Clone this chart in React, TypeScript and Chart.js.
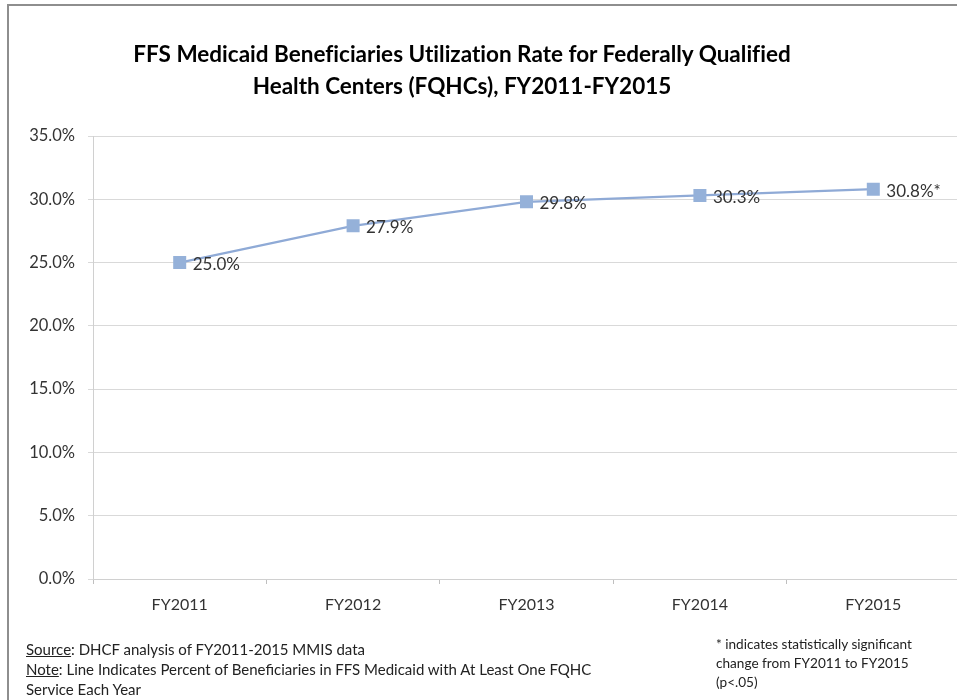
import React, { useEffect, useRef } from "react";
import { Chart, registerables } from "chart.js";

Chart.register(...registerables);

const categories = ["FY2011", "FY2012", "FY2013", "FY2014", "FY2015"];
const rates = [25.0, 27.9, 29.8, 30.3, 30.8];
const significant = [false, false, false, false, true];
const yTicks = [0, 5, 10, 15, 20, 25, 30, 35];

const titleLines = [
  "FFS Medicaid Beneficiaries Utilization Rate for Federally Qualified",
  "Health Centers (FQHCs), FY2011-FY2015",
];

const FONT = "Lato, 'Open Sans', sans-serif";

const dataLabelPlugin = {
  id: "dataLabels",
  afterDatasetsDraw(chart: any) {
    const ctx = chart.ctx;
    const meta = chart.getDatasetMeta(0);
    ctx.save();
    ctx.font = `17px ${FONT}`;
    ctx.fillStyle = "#333333";
    ctx.textAlign = "left";
    ctx.textBaseline = "middle";
    meta.data.forEach((pt: any, i: number) => {
      const label = rates[i].toFixed(1) + "%" + (significant[i] ? "*" : "");
      ctx.fillText(label, pt.x + 13, pt.y + 2);
    });
    ctx.restore();
  },
};

export default function App() {
  const canvasRef = useRef<HTMLCanvasElement>(null);

  useEffect(() => {
    if (!canvasRef.current) return;
    const chart = new Chart(canvasRef.current, {
      type: "line",
      data: {
        labels: categories,
        datasets: [
          {
            data: rates,
            borderColor: "#8FAAD6",
            backgroundColor: "#95B1D9",
            borderWidth: 2.25,
            pointStyle: "rect",
            pointRadius: 9.2,
            pointBorderWidth: 0,
            pointBackgroundColor: "#95B1D9",
            tension: 0,
          },
        ],
      },
      options: {
        responsive: false,
        animation: false,
        layout: { padding: { left: 0, right: 10, top: 136, bottom: 81 } },
        plugins: {
          legend: { display: false },
          title: { display: false },
          tooltip: { enabled: false },
        },
        scales: {
          x: {
            type: "category",
            offset: true,
            grid: {
              offset: true,
              drawOnChartArea: false,
              drawTicks: true,
              tickLength: 5,
              color: "#BFBFBF",
            },
            border: { display: true, color: "#D0D0D0" },
            ticks: {
              color: "#333333",
              font: { family: FONT, size: 16 },
              padding: 11,
              maxRotation: 0,
            },
            afterFit: (s: any) => {
              s.height = 40;
            },
          },
          y: {
            min: 0,
            max: 35,
            afterBuildTicks: (s: any) => {
              s.ticks = yTicks.map((v) => ({ value: v }));
            },
            grid: {
              color: "#D9D9D9",
              tickLength: 5,
              drawTicks: true,
            },
            border: { display: true, color: "#D0D0D0" },
            ticks: {
              color: "#333333",
              font: { family: FONT, size: 16.5 },
              padding: 13,
              callback: (v: any) => Number(v).toFixed(1) + "%",
            },
            afterFit: (s: any) => {
              s.width = 93;
            },
          },
        },
      },
      plugins: [dataLabelPlugin],
    });
    return () => chart.destroy();
  }, []);

  return (
    <div
      style={{
        position: "fixed",
        left: 0,
        top: 0,
        width: 957,
        height: 700,
        overflow: "hidden",
        background: "#ffffff",
        fontFamily: FONT,
      }}
    >
      <canvas
        ref={canvasRef}
        width={970}
        height={700}
        style={{ position: "absolute", left: 0, top: 0 }}
      />
      <div
        style={{
          position: "absolute",
          left: 7,
          top: 4,
          width: 1000,
          height: 800,
          borderLeft: "2px solid #8E8E8E",
          borderTop: "2px solid #8E8E8E",
          boxSizing: "border-box",
          pointerEvents: "none",
        }}
      />
      <div
        style={{
          position: "absolute",
          left: 0,
          top: 38,
          width: 924,
          textAlign: "center",
          fontWeight: 700,
          fontSize: 22.5,
          lineHeight: "32px",
          color: "#000000",
          fontVariantLigatures: "none",
          whiteSpace: "nowrap",
        }}
      >
        {titleLines.map((t, i) => (
          <div key={i}>{t}</div>
        ))}
      </div>
      <div
        style={{
          position: "absolute",
          left: 26,
          top: 639,
          fontSize: 15,
          lineHeight: "20px",
          color: "#222222",
          whiteSpace: "nowrap",
        }}
      >
        <div>
          <span style={{ textDecoration: "underline" }}>Source</span>: DHCF analysis of FY2011-2015 MMIS data
        </div>
        <div>
          <span style={{ textDecoration: "underline" }}>Note</span>: Line Indicates Percent of Beneficiaries in FFS Medicaid with At Least One FQHC
        </div>
        <div>Service Each Year</div>
      </div>
      <div
        style={{
          position: "absolute",
          left: 716,
          top: 635,
          fontSize: 13.6,
          lineHeight: "19px",
          color: "#222222",
          whiteSpace: "nowrap",
        }}
      >
        <div>* indicates statistically significant</div>
        <div>change from FY2011 to FY2015</div>
        <div>(p&lt;.05)</div>
      </div>
    </div>
  );
}
